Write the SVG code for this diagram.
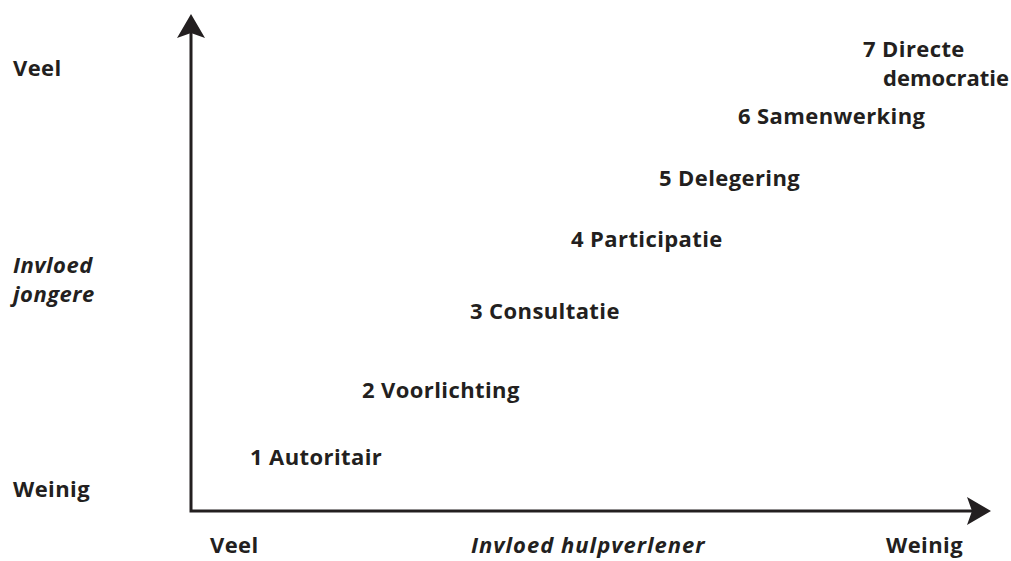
<svg xmlns="http://www.w3.org/2000/svg" width="1011" height="561" viewBox="0 0 1011 561">
  <style>
    .lbl { font-family: "Open Sans", "Liberation Sans", sans-serif; font-weight: bold; font-size: 22px; fill: #231f20; letter-spacing: 0.4px; }
    .it { font-style: italic; letter-spacing: 1px; }
    .axis { fill: none; stroke: #231f20; stroke-width: 3; stroke-linejoin: miter; }
  </style>
  <defs>
    <marker id="arrow" markerUnits="userSpaceOnUse" viewBox="-25 -15 26 30" refX="-19" refY="0" markerWidth="26" markerHeight="30" orient="auto-start-reverse">
      <path d="M0,0 L-24,-14 L-19,0 L-24,14 Z" fill="#231f20"/>
    </marker>
  </defs>
  <rect width="1011" height="561" fill="#ffffff"/>
  <g id="connectors">
    <polyline class="axis" points="191,33 191,511 972,511" marker-start="url(#arrow)" marker-end="url(#arrow)"/>
  </g>
  <g id="y-axis-labels">
    <text class="lbl" x="13" y="76">Veel</text>
    <text class="lbl it" x="13" y="273" style="letter-spacing:0.5px"><tspan x="13" y="273">Invloed</tspan><tspan x="13" y="302">jongere</tspan></text>
    <text class="lbl" x="13" y="497">Weinig</text>
  </g>
  <g id="x-axis-labels">
    <text class="lbl" x="210" y="553">Veel</text>
    <text class="lbl it" x="471" y="553">Invloed hulpverlener</text>
    <text class="lbl" x="886" y="553">Weinig</text>
  </g>
  <g id="node1"><text class="lbl" x="250" y="465">1 Autoritair</text></g>
  <g id="node2"><text class="lbl" x="362" y="398">2 Voorlichting</text></g>
  <g id="node3"><text class="lbl" x="470" y="319">3 Consultatie</text></g>
  <g id="node4"><text class="lbl" x="571" y="247">4 Participatie</text></g>
  <g id="node5"><text class="lbl" x="659" y="186">5 Delegering</text></g>
  <g id="node6"><text class="lbl" x="738" y="124">6 Samenwerking</text></g>
  <g id="node7">
    <text class="lbl" x="863" y="57"><tspan x="863" y="57">7 Directe</tspan><tspan x="883" y="86" style="letter-spacing:0">democratie</tspan></text>
  </g>
</svg>
